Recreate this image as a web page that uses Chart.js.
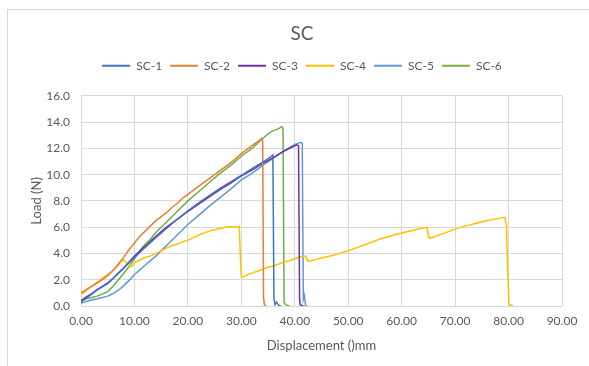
<!DOCTYPE html>
<html>
<head>
<meta charset="utf-8">
<script src="https://cdn.jsdelivr.net/npm/chart.js@4.4.1/dist/chart.umd.min.js"></script>
<style>
  html, body { margin: 0; padding: 0; background: #fff; }
  #frame { position: absolute; left: 7px; top: 9px; width: 600px; height: 400px; border: 1px solid #D9D9D9; }
  #wrap { position: absolute; left: 0; top: 0; width: 589px; height: 366px; }
</style>
</head>
<body>
<div id="frame"></div>
<div id="wrap"><canvas id="c" width="589" height="366"></canvas></div>
<script>
// Load–displacement curves for six SC specimens
const seriesNames = ['SC-1', 'SC-2', 'SC-3', 'SC-4', 'SC-5', 'SC-6'];
const seriesColors = ['#4472C4', '#ED7D31', '#7030A0', '#FFC000', '#5B9BD5', '#70AD47'];
const xTicks = [0, 10, 20, 30, 40, 50, 60, 70, 80, 90];
const yTicks = [0, 2, 4, 6, 8, 10, 12, 14, 16];

// SC-1
const sc1Disp = [0, 1, 2, 3, 4, 5, 6, 7, 8, 9, 10, 12, 14, 16, 18, 20, 22, 24, 26, 28, 30, 32, 34, 35.5, 35.9, 36.1, 36.3, 36.6, 37.0, 37.4];
const sc1Load = [0.3, 0.6, 0.9, 1.2, 1.45, 1.7, 2.1, 2.5, 2.9, 3.3, 3.7, 4.45, 5.2, 5.9, 6.6, 7.25, 7.85, 8.4, 8.95, 9.45, 9.95, 10.45, 10.95, 11.35, 11.5, 0.6, 0.1, 0.3, 0.05, 0.0];

// SC-2
const sc2Disp = [0, 1, 2, 3, 4, 5, 6, 7, 8, 9, 10, 11, 12, 13, 14, 15, 16, 17, 18, 19, 20, 22, 24, 26, 28, 30, 31, 32, 33, 33.8, 34.0, 34.15, 34.3, 34.5, 34.7];
const sc2Load = [1.0, 1.25, 1.5, 1.75, 2.0, 2.3, 2.7, 3.2, 3.7, 4.3, 4.8, 5.3, 5.7, 6.1, 6.5, 6.8, 7.1, 7.5, 7.8, 8.2, 8.5, 9.1, 9.7, 10.3, 10.9, 11.6, 11.9, 12.2, 12.5, 12.75, 12.6, 0.7, 0.1, 0.05, 0.0];

// SC-3
const sc3Disp = [0, 1, 2, 3, 4, 5, 6, 7, 8, 9, 10, 12, 14, 16, 18, 20, 22, 24, 26, 28, 30, 32, 34, 36, 38, 39.5, 40.4, 40.7, 40.9, 41.0, 41.3, 41.6];
const sc3Load = [0.4, 0.7, 0.95, 1.25, 1.5, 1.75, 2.1, 2.5, 2.9, 3.35, 3.8, 4.55, 5.3, 6.0, 6.6, 7.2, 7.75, 8.3, 8.85, 9.35, 9.9, 10.35, 10.85, 11.3, 11.8, 12.1, 12.27, 12.2, 0.6, 0.1, 0.05, 0.0];

// SC-4
const sc4Disp = [0, 0.5, 1, 2, 3, 4, 5, 6, 7, 7.5, 8, 8.5, 9, 9.5, 10, 11, 12, 13, 14, 15, 16, 17, 18, 19, 20, 21, 22, 23, 24, 25, 26, 27, 28, 29, 29.6, 29.8, 30.0, 30.5, 31, 32, 33, 34, 35, 36, 37, 38, 39, 40, 41, 42, 42.5, 43, 44, 45, 46, 47, 48, 50, 52, 54, 56, 58, 60, 62, 64, 64.8, 65.0, 65.3, 66, 67, 68, 70, 72, 74, 76, 78, 79.3, 79.6, 79.8, 80.1, 80.3, 80.8];
const sc4Load = [0.9, 1.0, 1.2, 1.5, 1.8, 2.1, 2.4, 2.7, 3.1, 3.4, 3.5, 3.3, 3.2, 3.0, 3.3, 3.5, 3.7, 3.8, 4.0, 4.2, 4.4, 4.6, 4.7, 4.9, 5.0, 5.2, 5.4, 5.55, 5.7, 5.8, 5.9, 6.0, 6.05, 6.0, 6.05, 4.0, 2.2, 2.25, 2.35, 2.5, 2.65, 2.8, 2.95, 3.05, 3.2, 3.35, 3.45, 3.6, 3.75, 3.8, 3.4, 3.45, 3.55, 3.65, 3.75, 3.85, 3.95, 4.2, 4.5, 4.8, 5.1, 5.35, 5.55, 5.75, 5.95, 5.95, 5.3, 5.15, 5.25, 5.4, 5.55, 5.85, 6.1, 6.3, 6.5, 6.65, 6.75, 6.2, 3.0, 0.1, 0.05, 0.05];

// SC-5
const sc5Disp = [0, 1, 2, 3, 4, 5, 6, 7, 8, 9, 10, 11, 12, 13, 14, 16, 18, 20, 22, 24, 26, 28, 30, 32, 34, 36, 38, 40, 41.0, 41.4, 41.6, 41.8, 42.0, 42.4];
const sc5Load = [0.2, 0.35, 0.45, 0.55, 0.65, 0.75, 0.95, 1.2, 1.55, 1.95, 2.4, 2.75, 3.1, 3.45, 3.8, 4.6, 5.4, 6.2, 6.9, 7.6, 8.25, 8.9, 9.6, 10.1, 10.7, 11.25, 11.8, 12.3, 12.45, 12.4, 0.5, 0.8, 0.05, 0.0];

// SC-6
const sc6Disp = [0, 1, 2, 3, 4, 5, 6, 7, 8, 9, 10, 11, 12, 13, 14, 15, 16, 18, 20, 22, 24, 26, 28, 30, 32, 34, 35, 36, 37, 37.6, 37.8, 38.0, 38.2, 38.6, 39.0];
const sc6Load = [0.4, 0.55, 0.65, 0.75, 0.9, 1.1, 1.5, 2.0, 2.5, 3.0, 3.6, 4.2, 4.7, 5.1, 5.6, 6.0, 6.4, 7.2, 8.0, 8.7, 9.4, 10.1, 10.7, 11.4, 12.0, 12.75, 13.1, 13.35, 13.5, 13.65, 13.5, 0.3, 0.15, 0.05, 0.0];

const dispArrays = [sc1Disp, sc2Disp, sc3Disp, sc4Disp, sc5Disp, sc6Disp];
const loadArrays = [sc1Load, sc2Load, sc3Load, sc4Load, sc5Load, sc6Load];

const textColor = '#595959';
const gridColor = '#D9D9D9';
const fontFamily = 'Lato, "Open Sans", sans-serif';

const datasets = seriesNames.map((name, i) => ({
  label: name,
  data: dispArrays[i].map((x, j) => ({ x: x, y: loadArrays[i][j] })),
  borderColor: seriesColors[i],
  backgroundColor: seriesColors[i],
  borderWidth: 1.5,
  pointRadius: 0,
  showLine: true,
  tension: 0
}));

new Chart(document.getElementById('c'), {
  type: 'scatter',
  data: { datasets: datasets },
  options: {
    responsive: false,
    animation: false,
    layout: { padding: { left: 42, right: 27, top: 0, bottom: 0 } },
    plugins: {
      title: {
        display: true,
        text: 'SC',
        color: textColor,
        font: { family: fontFamily, size: 19, weight: 'normal' },
        padding: { top: 22, bottom: 7 }
      },
      // empty spacer between the legend and the plot area
      subtitle: {
        display: true,
        text: '',
        weight: 500,
        font: { size: 10, lineHeight: 1 },
        padding: { top: 0, bottom: 4 }
      },
      legend: {
        display: true,
        position: 'top',
        labels: {
          color: textColor,
          font: { family: fontFamily, size: 12 },
          boxWidth: 28,
          boxHeight: 2,
          padding: 8,
          generateLabels: (chart) => Chart.defaults.plugins.legend.labels.generateLabels(chart).map(l => ({ ...l, lineWidth: 0, fillStyle: l.strokeStyle }))
        }
      },
      tooltip: { enabled: false }
    },
    scales: {
      x: {
        type: 'linear',
        min: 0,
        max: 90,
        afterBuildTicks: (s) => { s.ticks = xTicks.map(v => ({ value: v })); },
        ticks: {
          color: textColor,
          font: { family: fontFamily, size: 12 },
          padding: 8,
          maxRotation: 0,
          callback: (v) => v.toFixed(2)
        },
        grid: { color: gridColor, lineWidth: 1, drawTicks: false },
        border: { display: false },
        title: {
          display: true,
          text: 'Displacement ()mm',
          color: textColor,
          font: { family: fontFamily, size: 13 },
          padding: { top: 0, bottom: 12 }
        },
        afterFit: (s) => { s.height = 60; }
      },
      y: {
        type: 'linear',
        min: 0,
        max: 16,
        afterBuildTicks: (s) => { s.ticks = yTicks.map(v => ({ value: v })); },
        ticks: {
          color: textColor,
          font: { family: fontFamily, size: 12 },
          padding: 11,
          callback: (v) => v.toFixed(1)
        },
        grid: { color: gridColor, lineWidth: 1, drawTicks: false },
        border: { display: false },
        title: {
          display: true,
          text: 'Load (N)',
          color: textColor,
          font: { family: fontFamily, size: 13 },
          padding: { top: -13, bottom: 0 }
        },
        afterFit: (s) => { s.width = 39; }
      }
    }
  }
});
</script>
</body>
</html>
